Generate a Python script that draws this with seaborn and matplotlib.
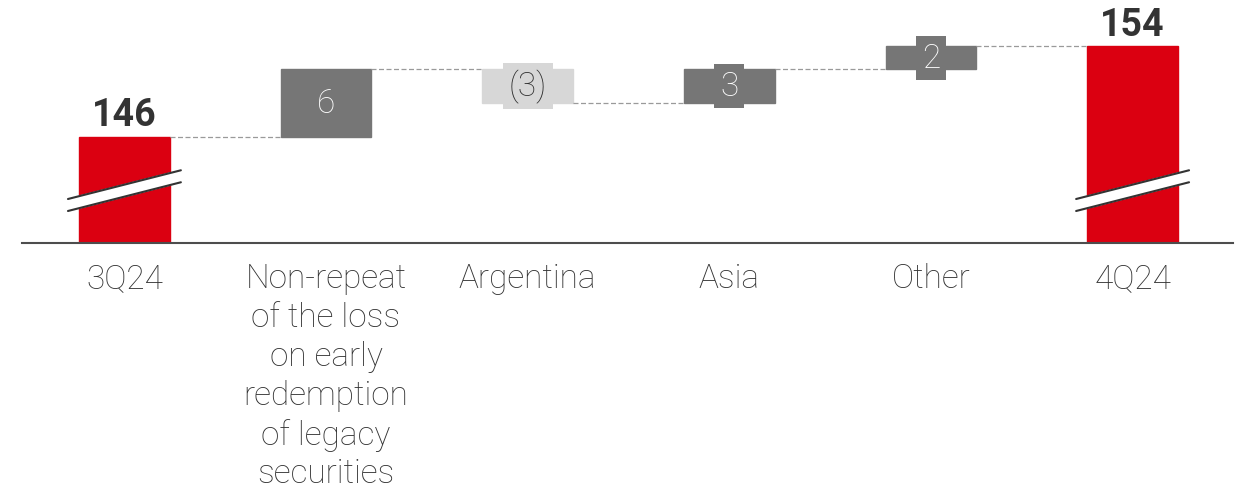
import matplotlib
matplotlib.use("Agg")
import matplotlib.pyplot as plt
import seaborn as sns
import pandas as pd

# data
categories = ["3Q24", "Non-repeat\nof the loss\non early\nredemption\nof legacy\nsecurities",
              "Argentina", "Asia", "Other", "4Q24"]
start_total = 146
deltas = [6, -3, 3, 2]
end_total = 154
value_labels = ["146", "6", "(3)", "3", "2", "154"]

RED = "#DB0011"
DARK = "#767676"
LIGHT = "#D7D7D7"
TXT = "#333333"

# waterfall geometry
bottoms, heights, levels = [0], [start_total], [start_total]
running = start_total
for d in deltas:
    new = running + d
    bottoms.append(min(running, new))
    heights.append(abs(d))
    running = new
    levels.append(running)
bottoms.append(0)
heights.append(end_total)
levels.append(end_total)

df = pd.DataFrame({"cat": categories, "height": heights})

sns.set_style("white")
plt.rcParams["font.family"] = ["Roboto", "DejaVu Sans"]

fig = plt.figure(figsize=(12.39, 4.89), dpi=100)
ax = fig.add_axes([22 / 1239, 245 / 489, 1211 / 1239, 244 / 489])

sns.barplot(data=df, x="cat", y="height", order=categories, bottom=bottoms,
            color=DARK, width=0.45, saturation=1, ax=ax)

colors = [RED] + [DARK if d > 0 else LIGHT for d in deltas] + [RED]
for p, c in zip(ax.patches, colors):
    p.set_facecolor(c)
    p.set_edgecolor(c)

ymin = 136.6
ax.set_ylim(ymin, ymin + 244 / 11.31)
ax.set_xlim(-0.508, 5.498)

w = 0.45
# connectors
for i in range(len(categories) - 1):
    ax.plot([i + w / 2, i + 1 - w / 2], [levels[i], levels[i]], color="#9a9a9a",
            lw=0.9, ls=(0, (4, 2)), zorder=1)

# labels
for i, lab in enumerate(value_labels):
    if i in (0, len(categories) - 1):
        ax.text(i, levels[i] + 0.3, lab, ha="center", va="bottom", fontsize=27,
                fontweight="bold", color="#333333")
    else:
        mid = bottoms[i] + heights[i] / 2
        fc = colors[i]
        tc = "white" if fc == DARK else "#333333"
        ax.text(i, mid, lab, ha="center", va="center", fontsize=24, fontweight="light",
                color=tc, zorder=4,
                bbox=dict(boxstyle="square,pad=0.18", fc=fc, ec="none"))

# axis break marks on the total bars
for i in (0, len(categories) - 1):
    xl, xr = i - 0.28, i + 0.28
    yl, yr = 139.96, 142.5
    hb = 0.53
    ax.fill([xl, xr, xr, xl], [yl - hb, yr - hb, yr + hb, yl + hb], color="white",
            zorder=5, clip_on=False)
    ax.plot([xl, xr], [yl - hb, yr - hb], color="#333333", lw=1.5, zorder=6)
    ax.plot([xl, xr], [yl + hb, yr + hb], color="#333333", lw=1.5, zorder=6)

for s in ["top", "left", "right"]:
    ax.spines[s].set_visible(False)
ax.spines["bottom"].set_color("#4d4d4d")
ax.spines["bottom"].set_linewidth(1.5)
ax.set_yticks([])
ax.set_xlabel("")
ax.set_ylabel("")
ax.tick_params(axis="x", length=0, pad=14, labelsize=24, labelcolor=TXT)
for t in ax.get_xticklabels():
    t.set_linespacing(1.27)
    t.set_fontweight("light")
    t.set_verticalalignment("top")

fig.savefig("out.png", dpi=100)
